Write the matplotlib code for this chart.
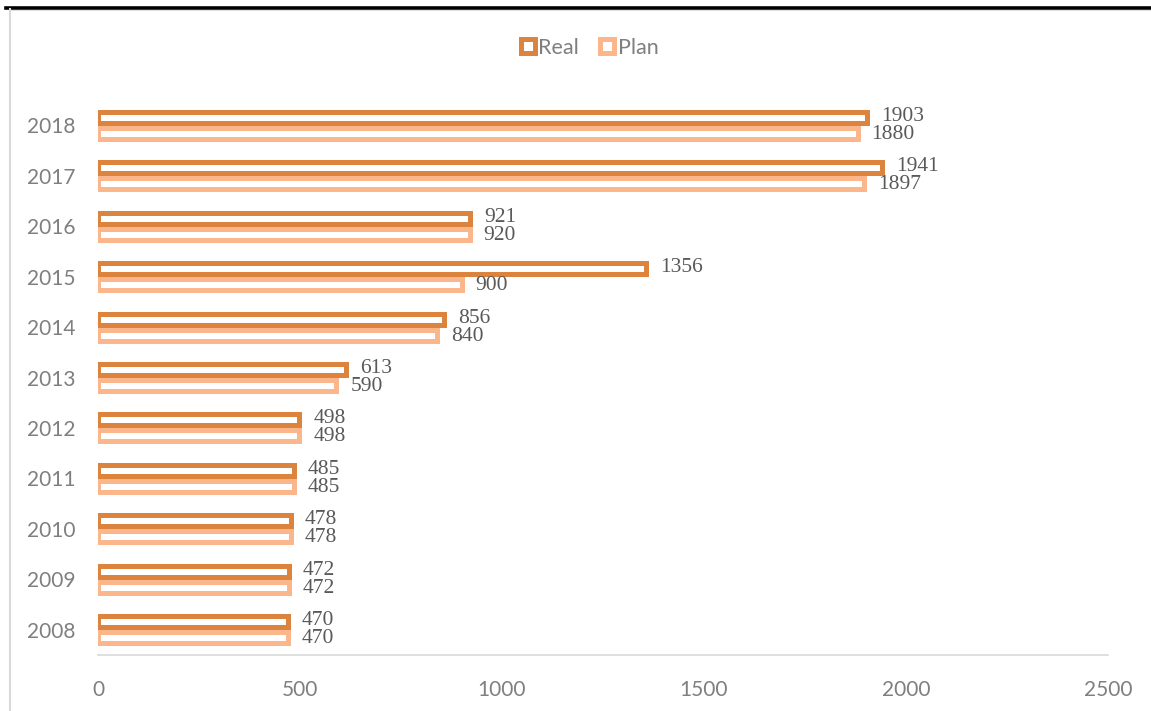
import matplotlib
matplotlib.use("Agg")
import matplotlib.pyplot as plt
import numpy as np
from matplotlib.lines import Line2D

years = ["2008", "2009", "2010", "2011", "2012", "2013", "2014", "2015", "2016", "2017", "2018"]
real = [470, 472, 478, 485, 498, 613, 856, 1356, 921, 1941, 1903]
plan = [470, 472, 478, 485, 498, 590, 840, 900, 920, 1897, 1880]
xticks = [0, 500, 1000, 1500, 2000, 2500]

c_real = "#DC843E"
c_plan = "#FBB68C"
tick_color = "#7F7F7F"
label_color = "#595959"

W, H = 1151, 711
fig = plt.figure(figsize=(W / 100, H / 100), dpi=100)
ax = fig.add_axes([98 / W, 1 - 655 / H, (1108 - 98) / W, (655 - 100) / H])

y = np.arange(len(years))
px_per_cat = 50.5
lw_px = 5.0
lw_pt = lw_px * 72 / 100
off = 8 / px_per_cat
h = (16 - lw_px) / px_per_cat

ax.barh(y + off, real, height=h, facecolor="white", edgecolor=c_real, linewidth=lw_pt, zorder=3)
ax.barh(y - off, plan, height=h, facecolor="white", edgecolor=c_plan, linewidth=lw_pt, zorder=2)

for yi, r, p in zip(y, real, plan):
    ax.annotate(str(r), (r, yi + off), xytext=(14, 1), textcoords="offset pixels",
                ha="left", va="center", family="Liberation Serif", fontsize=15.5,
                color=label_color)
    ax.annotate(str(p), (p, yi - off), xytext=(14, -1), textcoords="offset pixels",
                ha="left", va="center", family="Liberation Serif", fontsize=15.5,
                color=label_color)

ax.set_xlim(0, 2500)
ax.set_ylim(-0.5, len(years) - 0.5)
ax.set_xticks(xticks)
ax.set_xticklabels([str(t) for t in xticks])
ax.set_yticks(y)
ax.set_yticklabels(years)
for s in ["top", "right", "left"]:
    ax.spines[s].set_visible(False)
ax.spines["bottom"].set_color("#D9D9D9")
ax.spines["bottom"].set_linewidth(1.2)
ax.tick_params(axis="both", length=0, labelsize=15, labelcolor=tick_color)
ax.tick_params(axis="x", pad=18)
ax.tick_params(axis="y", pad=16)
for lab in ax.get_xticklabels() + ax.get_yticklabels():
    lab.set_family("Lato")

handles = [
    Line2D([], [], linestyle="none", marker="s", markersize=10.5, markerfacecolor="white",
           markeredgecolor=c_real, markeredgewidth=3.6, label="Real"),
    Line2D([], [], linestyle="none", marker="s", markersize=10.5, markerfacecolor="white",
           markeredgecolor=c_plan, markeredgewidth=3.6, label="Plan"),
]
leg = fig.legend(handles=handles, loc="center", bbox_to_anchor=(590 / W, 1 - 48 / H),
                 ncol=2, frameon=False, handlelength=0.6, handletextpad=0.2,
                 columnspacing=1.0, prop={"family": "Lato", "size": 15.5})
for t in leg.get_texts():
    t.set_color(tick_color)

# figure border lines
fig.add_artist(Line2D([6 / W, 1], [1 - 7.5 / H, 1 - 7.5 / H], color="black", linewidth=2.6,
                      transform=fig.transFigure))
fig.add_artist(Line2D([10 / W, 1], [1 - 10 / H, 1 - 10 / H], color="#E0E0E0", linewidth=0.8,
                      transform=fig.transFigure))
fig.add_artist(Line2D([10 / W, 10 / W], [0, 1 - 9 / H], color="#D9D9D9", linewidth=1.5,
                      transform=fig.transFigure))

fig.savefig("out.png", dpi=100)
